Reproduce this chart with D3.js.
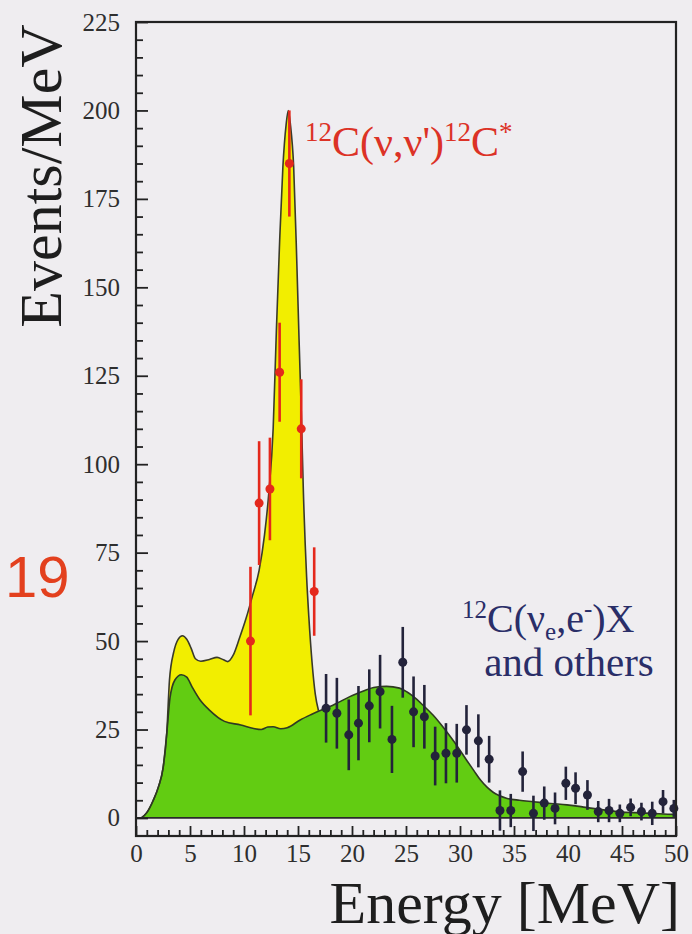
<!DOCTYPE html>
<html>
<head>
<meta charset="utf-8">
<script src="https://cdn.jsdelivr.net/npm/d3@7"></script>
<style>
  body { margin: 0; background: #efedf0; }
  svg { display: block; }
</style>
</head>
<body>
<svg id="chart"></svg>
<script>
const width = 692;
const height = 934;

// fit curve for 12C(nu_e,e-)X and others (green)
const greenE = [0.5, 1.0, 1.6, 2.1, 2.5, 2.85, 3.15, 3.6, 4.2, 4.7, 5.2, 5.9, 6.8, 8.2, 9.7, 10.9, 11.6, 12.2, 12.7, 13.4, 14.0, 15.2, 16.2, 17.0, 17.6, 18.7, 19.8, 21.0, 22.0, 23.2, 24.4, 25.1, 25.7, 26.6, 27.5, 28.3, 29.1, 29.9, 30.6, 31.3, 31.9, 32.5, 33.1, 34.3, 35.5, 36.8, 38.4, 39.9, 41.2, 42.3, 43.5, 44.5, 46.2, 47.7, 49.8, 50];
const greenV = [0, 1.5, 5, 9, 14, 24, 34, 39, 40.5, 39.8, 37, 33.5, 30.5, 27.3, 26.3, 25.3, 25, 25.7, 25.8, 25.2, 25.5, 27.7, 29.2, 30.3, 31, 32.6, 34.3, 35.8, 36.9, 37.2, 36.7, 35.6, 34.3, 31.8, 29.1, 26.2, 23, 19.6, 16.4, 13.3, 10.7, 8.7, 7.2, 5.6, 5.0, 4.6, 4.1, 3.7, 3.2, 2.7, 2.2, 1.8, 1.5, 1.3, 1.0, 1.0];

// total fit including 12C(nu,nu')12C* (yellow)
const totalE = [0.5, 1.0, 1.6, 2.1, 2.5, 2.85, 3.1, 3.5, 3.9, 4.3, 4.7, 5.1, 5.5, 6.0, 6.8, 7.5, 8.1, 8.5, 9.0, 9.6, 10.2, 10.8, 11.4, 11.9, 12.3, 12.7, 13.0, 13.3, 13.6, 13.9, 14.1, 14.3, 14.6, 14.9, 15.1, 15.3, 15.5, 15.8, 16.0, 16.3, 16.6, 16.9];
const totalV = [0, 1.5, 5, 9, 14, 24, 39, 47, 50.5, 51.5, 50.5, 48, 45, 44.3, 44.8, 45.4, 44.7, 44.2, 46, 51, 56.5, 63, 70, 80, 92, 110, 138, 163, 184, 196, 200, 196, 184, 156, 135, 115, 92, 68, 57, 44, 35, 30.3];

// measured points, red (nu,nu')
const redE = [10.6, 11.4, 12.4, 13.3, 14.2, 15.3, 16.5];
const redV = [50, 89, 93, 126, 185, 110, 64];
const redErr = [21, 17.5, 14.5, 14, 15, 14, 12.5];

// measured points, dark (others)
const darkE = [17.6, 18.6, 19.7, 20.6, 21.6, 22.6, 23.7, 24.7, 25.7, 26.7, 27.7, 28.7, 29.7, 30.6, 31.7, 32.7, 33.7, 34.7, 35.8, 36.8, 37.8, 38.8, 39.8, 40.7, 41.8, 42.8, 43.8, 44.8, 45.8, 46.8, 47.8, 48.8, 49.8];
const darkV = [31, 29.6, 23.5, 26.8, 31.7, 35.7, 22.2, 44, 30, 28.6, 17.5, 18.3, 18.3, 24.9, 21.8, 16.6, 2.1, 2.1, 13.1, 1.3, 4.2, 2.7, 9.8, 8.4, 6.5, 1.8, 2.1, 1.3, 3.0, 1.8, 1.3, 4.6, 2.7];
const darkErr = [9.7, 10, 10, 10.5, 10.3, 10.4, 9.5, 10, 10, 9, 8.3, 8.5, 8.3, 7, 7.5, 6.6, 5.7, 4.7, 5.7, 5, 4.7, 4.5, 4.7, 4.5, 4.2, 3, 3.3, 2.5, 2.5, 2.5, 3.3, 3.3, 2.4];

const yMajor = [0, 25, 50, 75, 100, 125, 150, 175, 200, 225];
const xMajor = [0, 5, 10, 15, 20, 25, 30, 35, 40, 45, 50];

const x = d3.scaleLinear().domain([0, 50]).range([136, 676]);
const y = d3.scaleLinear().domain([-5.1, 225]).range([836, 22]);

const svg = d3.select("#chart").attr("width", width).attr("height", height);
svg.append("rect").attr("width", width).attr("height", height).attr("fill", "#efedf0");

const serif = "'Liberation Serif', 'Times New Roman', serif";

const green = greenE.map((e, i) => ({ e, v: greenV[i] }));
const total = totalE.map((e, i) => ({ e, v: totalV[i] }));

const area = d3.area().x(d => x(d.e)).y0(y(0)).y1(d => y(d.v)).curve(d3.curveMonotoneX);
const line = d3.line().x(d => x(d.e)).y(d => y(d.v)).curve(d3.curveMonotoneX);

svg.append("path").datum(total).attr("d", area).attr("fill", "#f2ee00");
svg.append("path").datum(green).attr("d", area).attr("fill", "#62cc12");
svg.append("path").datum(total).attr("d", line).attr("fill", "none").attr("stroke", "#3a3a2a").attr("stroke-width", 1.6);
svg.append("path").datum(green).attr("d", line).attr("fill", "none").attr("stroke", "#2f3a22").attr("stroke-width", 1.6);

// zero line
svg.append("line")
    .attr("x1", x(0)).attr("x2", x(50))
    .attr("y1", y(0)).attr("y2", y(0))
    .attr("stroke", "#2a2a2a").attr("stroke-width", 1.8);

function drawPoints(es, vs, errs, color, r) {
    const pts = es.map((e, i) => ({ e, v: vs[i], err: errs[i] }));
    const g = svg.append("g");
    g.selectAll("line").data(pts).enter().append("line")
        .attr("x1", d => x(d.e)).attr("x2", d => x(d.e))
        .attr("y1", d => y(d.v - d.err)).attr("y2", d => y(d.v + d.err))
        .attr("stroke", color).attr("stroke-width", 2.6);
    g.selectAll("circle").data(pts).enter().append("circle")
        .attr("cx", d => x(d.e)).attr("cy", d => y(d.v)).attr("r", r)
        .attr("fill", color);
}
drawPoints(redE, redV, redErr, "#e4281c", 4.5);
drawPoints(darkE, darkV, darkErr, "#23233a", 4.5);

// frame
svg.append("rect")
    .attr("x", x(0)).attr("y", y(225))
    .attr("width", x(50) - x(0)).attr("height", y(-5.1) - y(225))
    .attr("fill", "none").attr("stroke", "#222").attr("stroke-width", 2.2);

// y axis, ticks inward
svg.append("g").attr("class", "axis").attr("transform", `translate(${x(0)},0)`)
    .call(d3.axisLeft(y).tickValues(yMajor).tickSize(-12).tickPadding(16));
svg.append("g").attr("class", "axis").attr("transform", `translate(${x(0)},0)`)
    .call(d3.axisLeft(y).tickValues(d3.range(0, 226, 5).filter(v => v % 25)).tickSize(-7).tickFormat(""));

// x axis, ticks upward
svg.append("g").attr("class", "axis").attr("transform", `translate(0,${y(-5.1)})`)
    .call(d3.axisBottom(x).tickValues(xMajor).tickSize(-10).tickPadding(8));
svg.append("g").attr("class", "axis").attr("transform", `translate(0,${y(-5.1)})`)
    .call(d3.axisBottom(x).tickValues(d3.range(0, 51, 1).filter(v => v % 5)).tickSize(-6).tickFormat(""));

svg.selectAll(".axis").attr("font-family", serif).attr("font-size", 25);
svg.selectAll(".domain").remove();
svg.selectAll(".tick line").attr("stroke", "#222").attr("stroke-width", 1.8);
svg.selectAll(".tick text")
    .style("font-family", serif).style("font-size", "25px").attr("fill", "#2e2e2e");

// axis titles
svg.append("text")
    .attr("transform", "translate(61,176) rotate(-90)")
    .attr("text-anchor", "middle")
    .attr("font-family", serif).attr("font-size", 60).attr("fill", "#1e1e1e")
    .text("Events/MeV");

svg.append("text")
    .attr("x", 680).attr("y", 923)
    .attr("text-anchor", "end")
    .attr("font-family", serif).attr("font-size", 60).attr("fill", "#1e1e1e")
    .text("Energy [MeV]");

// red label
const redLabel = svg.append("text")
    .attr("x", 305).attr("y", 156)
    .attr("font-family", serif).attr("fill", "#dc3226");
redLabel.append("tspan").attr("font-size", 27).attr("dy", -15).text("12");
redLabel.append("tspan").attr("font-size", 42).attr("dy", 15).text("C(ν,ν')");
redLabel.append("tspan").attr("font-size", 27).attr("dy", -15).text("12");
redLabel.append("tspan").attr("font-size", 42).attr("dy", 15).text("C");
redLabel.append("tspan").attr("font-size", 27).attr("dy", -15).text("*");

// blue label
const blueLabel = svg.append("text")
    .attr("x", 462).attr("y", 632)
    .attr("font-family", serif).attr("fill", "#2a2e68");
blueLabel.append("tspan").attr("font-size", 25).attr("dy", -14).text("12");
blueLabel.append("tspan").attr("font-size", 40).attr("dy", 14).text("C(ν");
blueLabel.append("tspan").attr("font-size", 25).attr("dy", 8).text("e");
blueLabel.append("tspan").attr("font-size", 40).attr("dy", -8).text(",e");
blueLabel.append("tspan").attr("font-size", 25).attr("dy", -15).text("-");
blueLabel.append("tspan").attr("font-size", 40).attr("dy", 15).text(")X");

svg.append("text")
    .attr("x", 569).attr("y", 676)
    .attr("text-anchor", "middle")
    .attr("font-family", serif).attr("font-size", 41).attr("fill", "#2a2e68")
    .text("and others");

// stray page label
svg.append("text")
    .attr("x", 5).attr("y", 597)
    .attr("font-family", "'Liberation Sans', Arial, sans-serif")
    .attr("font-size", 58).attr("fill", "#e3401e")
    .text("19");
</script>
</body>
</html>
